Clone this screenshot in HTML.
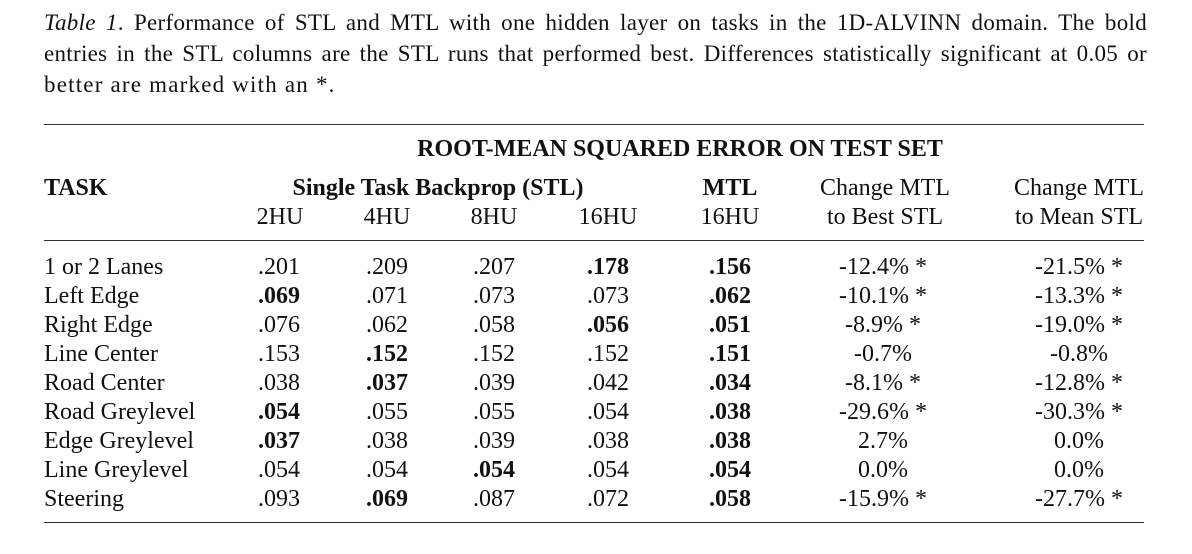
<!DOCTYPE html>
<html><head><meta charset="utf-8"><style>
body{margin:0;width:1192px;height:554px;background:#fff;position:relative;font-family:"Liberation Serif",serif;color:#111;overflow:hidden}
.t{position:absolute;font-size:24px;line-height:26px;white-space:nowrap}
.c{transform:translateX(-50%)}
.b{font-weight:bold}
.rule{position:absolute;left:44px;width:1100px;height:1px;background:#333}
.cap{position:absolute;left:44px;width:1103px;font-size:23px;line-height:28px;white-space:nowrap;letter-spacing:0.3px}
.j{text-align:justify;text-align-last:justify}
</style></head><body>
<div class="cap j" style="top:9px"><i>Table 1</i>. Performance of STL and MTL with one hidden layer on tasks in the 1D-ALVINN domain. The bold</div>
<div class="cap j" style="top:40px">entries in the STL columns are the STL runs that performed best. Differences statistically significant at 0.05 or</div>
<div class="cap" style="top:71px;letter-spacing:1.2px">better are marked with an *.</div>
<div class="rule" style="top:124px"></div>
<div class="rule" style="top:240px"></div>
<div class="rule" style="top:522px"></div>
<div class="t c b" style="left:680px;top:136px">ROOT-MEAN SQUARED ERROR ON TEST SET</div>
<div class="t b" style="left:44px;top:175px">TASK</div>
<div class="t c b" style="left:438px;top:175px">Single Task Backprop (STL)</div>
<div class="t c b" style="left:730px;top:175px">MTL</div>
<div class="t c" style="left:885px;top:175px">Change MTL</div>
<div class="t c" style="left:1079px;top:175px">Change MTL</div>
<div class="t c" style="left:280px;top:204px">2HU</div>
<div class="t c" style="left:387px;top:204px">4HU</div>
<div class="t c" style="left:494px;top:204px">8HU</div>
<div class="t c" style="left:608px;top:204px">16HU</div>
<div class="t c" style="left:730px;top:204px">16HU</div>
<div class="t c" style="left:885px;top:204px">to Best STL</div>
<div class="t c" style="left:1079px;top:204px">to Mean STL</div>
<div id="rows"></div>
<script>
const tasks=["1 or 2 Lanes","Left Edge","Right Edge","Line Center","Road Center","Road Greylevel","Edge Greylevel","Line Greylevel","Steering"];
const hu2=[".201",".069",".076",".153",".038",".054",".037",".054",".093"];
const hu4=[".209",".071",".062",".152",".037",".055",".038",".054",".069"];
const hu8=[".207",".073",".058",".152",".039",".055",".039",".054",".087"];
const hu16=[".178",".073",".056",".152",".042",".054",".038",".054",".072"];
const mtl=[".156",".062",".051",".151",".034",".038",".038",".054",".058"];
const best=["-12.4% *","-10.1% *","-8.9% *","-0.7%","-8.1% *","-29.6% *","2.7%","0.0%","-15.9% *"];
const mean=["-21.5% *","-13.3% *","-19.0% *","-0.8%","-12.8% *","-30.3% *","0.0%","0.0%","-27.7% *"];
const boldCol=[3,0,3,1,1,0,0,2,1];
const rows=document.getElementById('rows');
function cell(txt,x,y,center,bold,name){
  const d=document.createElement('div');
  d.className='t'+(center?' c':'')+(bold?' b':'');
  d.style.left=x+'px';d.style.top=y+'px';d.textContent=txt;
  
  
  rows.appendChild(d);
}
const xs=[279,387,494,608];
tasks.forEach((t,i)=>{
  const y=254+i*29;
  cell(t,44,y,false,false,'task-name');
  [hu2,hu4,hu8,hu16].forEach((arr,j)=>cell(arr[i],xs[j],y,true,boldCol[i]===j,'stl-value'));
  cell(mtl[i],730,y,true,true,'mtl-value');
  cell(best[i],883,y,true,false,'change-best');
  cell(mean[i],1079,y,true,false,'change-mean');
});
</script>
</body></html>
